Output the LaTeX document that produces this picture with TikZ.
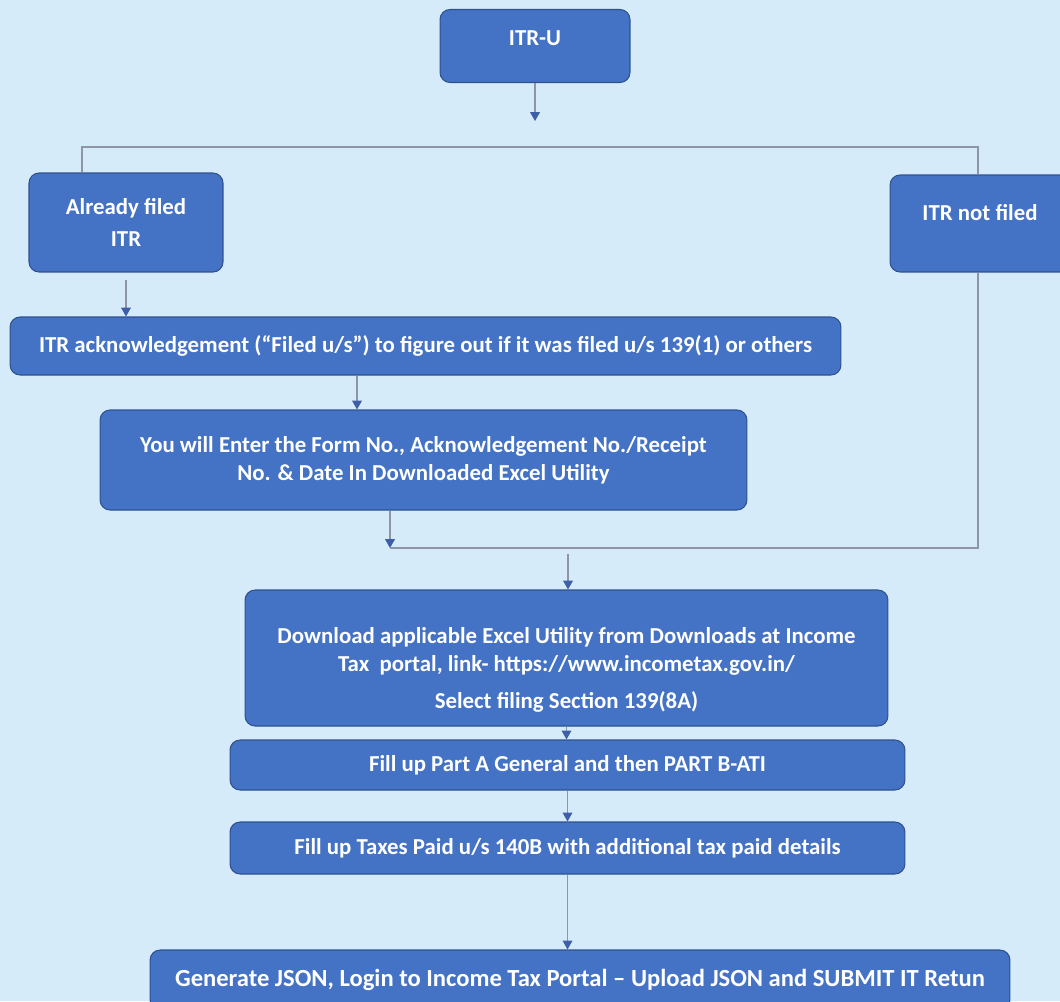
\documentclass[tikz,border=0pt]{standalone}
\usepackage{fontspec}
\setmainfont{Carlito}
\usetikzlibrary{arrows.meta,positioning,calc}
\definecolor{itrbg}{HTML}{D6EBFA}
\definecolor{itrblue}{HTML}{4472C4}
\definecolor{itrdark}{HTML}{2F528F}
\definecolor{itrline}{HTML}{8E96A6}
\definecolor{itrtip}{HTML}{3E5EA8}

\tikzset{
  boxtext/.style={text=white,font=\bfseries\fontsize{13}{15}\selectfont,align=center,inner sep=0pt},
  stepbox/.style={boxtext,draw=itrdark,fill=itrblue,rounded corners=0.2cm,line width=0.6pt},
  link/.style={draw=itrline,line width=0.6pt},
  flow/.style={link,-{Triangle[color=itrtip,length=5pt,width=5.5pt]}},
}

\begin{document}
\begin{tikzpicture}[x=0.02cm,y=-0.02cm]
\fill[itrbg] (0,0) rectangle (1060,1001);
\useasboundingbox (0,0) rectangle (1060,1001);

% top and the two cases
\node[stepbox,minimum width=3.8cm,minimum height=1.46cm,text depth=9pt] (itru) at (535,46) {ITR-U};
\node[stepbox,minimum width=3.88cm,minimum height=1.98cm] (alr) at (126,222.5) {Already filed\\[3pt]ITR};
\node[stepbox,minimum width=3.6cm,minimum height=1.94cm,text depth=13pt] (notf) at (980,223.5) {ITR not filed};

% filed branch
\node[stepbox,minimum width=16.62cm,minimum height=1.16cm] (ack) at (425.5,346) {ITR acknowledgement (“Filed u/s”) to figure out if it was filed u/s 139(1) or others};
\node[stepbox,minimum width=12.94cm,minimum height=2cm] (enter) at (423.5,460) {You will Enter the Form No., Acknowledgement No./Receipt\\[1pt]No. \& Date In Downloaded Excel Utility};

% common steps
\node[stepbox,minimum width=12.86cm,minimum height=2.72cm] (dl) at (566.5,658) {};
\node[boxtext] (dltext) at (566.5,670) {Download applicable Excel Utility from Downloads at Income\\[1pt]Tax\ \ portal, link- https://www.incometax.gov.in/\\[6pt]Select filing Section 139(8A)};
\node[stepbox,minimum width=13.5cm,minimum height=1cm] (parta) at (567.5,765) {Fill up Part A General and then PART B-ATI};
\node[stepbox,minimum width=13.5cm,minimum height=1.04cm] (taxes) at (567.5,848) {Fill up Taxes Paid u/s 140B with additional tax paid details};
\node[stepbox,minimum width=17.2cm,minimum height=1.2cm,font=\bfseries\fontsize{14}{16}\selectfont] (gen) at (580,980) {Generate JSON, Login to Income Tax Portal – Upload JSON and SUBMIT IT Retun};

\coordinate (splitC) at (535,121);
\coordinate (splitL) at (82,147);
\coordinate (splitR) at (978,147);
\coordinate (merge) at (390,548);
\coordinate (mergeout) at (568,554);

\draw[flow] (itru.south) -- (splitC);
\draw[link] (alr.north -| splitL) -- (splitL) -- (splitR) -- (notf.north -| splitR);
\draw[flow,shorten <=4.5pt] (alr.south) -- (alr.south |- ack.north);
\draw[flow] ([xshift=-1.33cm]enter.north |- ack.south) -- ([xshift=-1.33cm]enter.north);
\draw[flow] (enter.south -| merge) -- (merge);
\draw[link] (notf.south -| splitR) |- (merge);
\draw[flow] (mergeout) -- (mergeout |- dl.north);
\draw[flow] (dl.south) -- (dl.south |- parta.north);
\draw[flow] (parta.south) -- (parta.south |- taxes.north);
\draw[flow] (taxes.south) -- (taxes.south |- gen.north);
\end{tikzpicture}
\end{document}
